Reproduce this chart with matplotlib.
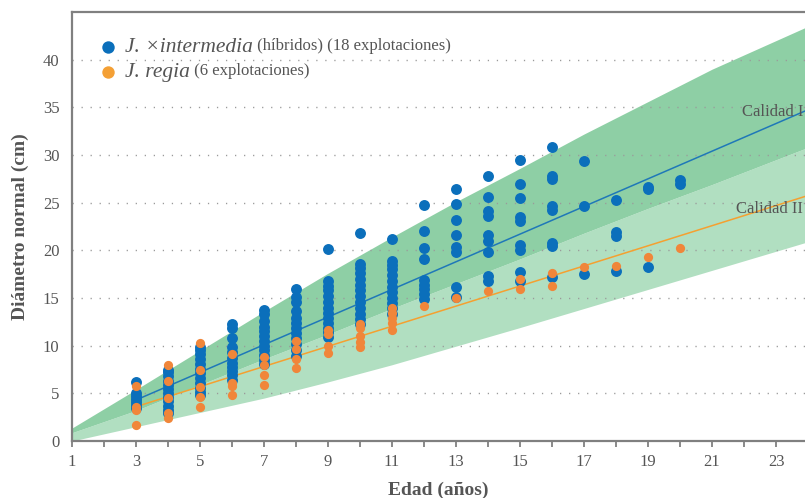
import matplotlib
matplotlib.use("Agg")
import matplotlib.pyplot as plt
from matplotlib.ticker import MultipleLocator, FixedLocator

# --- observed diameters (cm) by stand age (years) ---
edades = [3, 4, 5, 6, 7, 8, 9, 10, 11, 12, 13, 14, 15, 16, 17, 18, 19, 20]

hibridos_diam = [
    [6.2, 5.0, 4.7, 4.4, 4.1, 3.8, 3.5],
    [7.5, 7.2, 6.8, 6.3, 5.9, 5.5, 5.0, 4.6, 4.2, 3.7, 3.3, 2.9],
    [9.9, 9.5, 9.1, 8.6, 8.1, 7.6, 7.1, 6.6, 6.1, 5.6, 5.1, 4.8],
    [12.3, 11.9, 10.8, 9.9, 9.3, 8.7, 8.2, 7.8, 7.3, 6.9, 6.4],
    [13.7, 13.3, 12.6, 12.0, 11.5, 11.0, 10.5, 10.0, 9.5, 9.0, 8.5, 8.1],
    [15.9, 15.1, 14.6, 13.6, 12.9, 12.4, 11.9, 11.3, 10.8, 10.2, 9.5, 8.9],
    [20.1, 16.8, 16.3, 15.8, 15.2, 14.6, 14.0, 13.4, 12.9, 12.4, 11.9, 11.4, 10.9],
    [21.8, 18.6, 18.1, 17.6, 17.0, 16.4, 15.8, 15.2, 14.6, 14.0, 13.3, 12.8, 12.3],
    [21.2, 18.9, 18.5, 18.0, 17.4, 16.8, 16.2, 15.6, 15.0, 14.5, 13.9, 13.3],
    [24.8, 22.0, 20.2, 19.1, 16.9, 16.4, 15.9, 15.4, 14.9],
    [26.4, 24.9, 23.2, 21.6, 20.4, 19.8, 16.2, 15.1],
    [27.8, 25.6, 24.1, 23.6, 21.6, 21.0, 19.8, 17.3, 16.8],
    [29.5, 27.0, 25.5, 23.5, 23.1, 20.6, 20.0, 17.7, 16.8],
    [30.8, 27.8, 27.5, 24.6, 24.2, 20.8, 20.5, 17.2],
    [29.4, 24.7, 17.5],
    [25.3, 21.9, 21.5, 17.8],
    [26.6, 26.4, 18.3],
    [27.4, 27.0],
]

regia_diam = [
    [5.8, 3.6, 3.2, 1.7],
    [8.0, 6.3, 4.5, 2.9, 2.4],
    [10.3, 7.4, 5.7, 4.6, 3.6],
    [9.1, 6.1, 5.8, 4.8],
    [8.8, 8.0, 6.9, 5.9],
    [10.5, 9.6, 8.6, 7.7],
    [11.6, 11.2, 10.0, 9.2],
    [12.3, 11.9, 11.0, 10.4, 9.9],
    [13.9, 13.4, 12.9, 12.4, 11.6],
    [14.2],
    [15.0],
    [15.7],
    [17.0, 15.9],
    [17.6, 16.3],
    [18.3],
    [18.4],
    [19.3],
    [20.2],
]

# --- site-quality envelopes ---
curva_edad = [1, 3, 5, 7, 9, 11, 13, 15, 17, 19, 21, 23, 24]
limite_sup = [1.36, 5.4, 9.5, 13.6, 17.6, 21.4, 25.1, 28.6, 32.2, 35.6, 39.0, 42.0, 43.5]
limite_med = [0.87, 3.2, 5.9, 8.6, 11.2, 13.9, 16.5, 19.1, 21.8, 24.4, 26.9, 29.5, 30.8]
limite_inf = [0.0, 1.5, 3.0, 4.5, 6.2, 8.0, 9.95, 11.9, 13.9, 15.9, 17.9, 19.9, 20.9]

# --- quality curves ---
calidad_edad = [3, 24]
calidad_I = [4.3, 34.75]
calidad_II = [3.6, 25.75]

yticks = [0, 5, 10, 15, 20, 25, 30, 35, 40]
xtick_labels = [1, 3, 5, 7, 9, 11, 13, 15, 17, 19, 21, 23]

AZUL = "#0b6fbb"
NARANJA = "#f0863a"
NARANJA_LEY = "#f4a035"
VERDE_OSC = "#8ecfa5"
VERDE_CLA = "#b1dfc1"
GRIS_TXT = "#555555"
GRIS_EJE = "#808080"
SERIF = "Liberation Serif"

fig = plt.figure(figsize=(8.05, 4.98), dpi=100)
ax = fig.add_axes([72 / 805, 57 / 498, 733 / 805, 429 / 498])

ax.fill_between(curva_edad, limite_inf, limite_med, color=VERDE_CLA, lw=0, zorder=1)
ax.fill_between(curva_edad, limite_med, limite_sup, color=VERDE_OSC, lw=0, zorder=1)

ax.plot(calidad_edad, calidad_I, color="#1f78b8", lw=1.1, zorder=2)
ax.plot(calidad_edad, calidad_II, color="#f5a030", lw=1.1, zorder=2)

for edad, vals in zip(edades, hibridos_diam):
    ax.scatter([edad] * len(vals), vals, s=62, color=AZUL, lw=0, zorder=3)
for edad, vals in zip(edades, regia_diam):
    ax.scatter([edad] * len(vals), vals, s=44, color=NARANJA, lw=0, zorder=4)

ax.set_xlim(1, 1 + 733 / 32)
ax.set_ylim(0, 45)

ax.xaxis.set_major_locator(MultipleLocator(1))
ax.set_xticks(list(range(1, 24)))
ax.set_xticklabels([str(v) if v in xtick_labels else "" for v in range(1, 24)])
ax.yaxis.set_major_locator(FixedLocator(yticks))
ax.set_yticklabels([str(v) for v in yticks])

ax.tick_params(axis="x", direction="out", length=4.5, width=1.3, color=GRIS_EJE,
               pad=5, labelsize=12, labelcolor=GRIS_TXT)
ax.tick_params(axis="y", length=0, pad=9, labelsize=12, labelcolor=GRIS_TXT)
for lab in ax.get_xticklabels() + ax.get_yticklabels():
    lab.set_fontfamily(SERIF)

ax.yaxis.grid(True, color="#9a9a9a", lw=1.0, linestyle=(0, (0.9, 5.6)))
ax.xaxis.grid(False)

for side in ("left", "bottom", "top"):
    ax.spines[side].set_color(GRIS_EJE)
    ax.spines[side].set_linewidth(1.6)
ax.spines["right"].set_visible(False)

ax.set_xlabel("Edad (años)", fontfamily=SERIF, fontsize=14, fontweight="bold",
              color=GRIS_TXT, labelpad=8)
ax.set_ylabel("Diámetro normal (cm)", fontfamily=SERIF, fontsize=14, fontweight="bold",
              color=GRIS_TXT, labelpad=10)

ax.text(23.84, 34.5, "Calidad I", fontfamily=SERIF, fontsize=12, color=GRIS_TXT,
        ha="right", va="center", zorder=5)
ax.text(23.84, 24.35, "Calidad II", fontfamily=SERIF, fontsize=12, color=GRIS_TXT,
        ha="right", va="center", zorder=5)

# legend built from markers and mixed-style text
leyenda = [
    (AZUL, 0.918, "J. ×intermedia", " (híbridos) (18 explotaciones)"),
    (NARANJA_LEY, 0.860, "J. regia", " (6 explotaciones)"),
]
for color, yy, especie, detalle in leyenda:
    ax.scatter([0.049], [yy], s=80, color=color, lw=0, transform=ax.transAxes,
               zorder=6, clip_on=False)
    t1 = ax.text(0.0725, yy, especie, transform=ax.transAxes, fontfamily=SERIF,
                 fontstyle="italic", fontsize=15.5, color=GRIS_TXT, va="center",
                 ha="left", zorder=6)
    ax.annotate(detalle, xy=(1, 0), xycoords=t1, xytext=(0, 2.0),
                textcoords="offset points", fontfamily=SERIF, fontsize=12,
                color=GRIS_TXT, va="bottom", ha="left", zorder=6)

fig.savefig("out.png", dpi=100)
